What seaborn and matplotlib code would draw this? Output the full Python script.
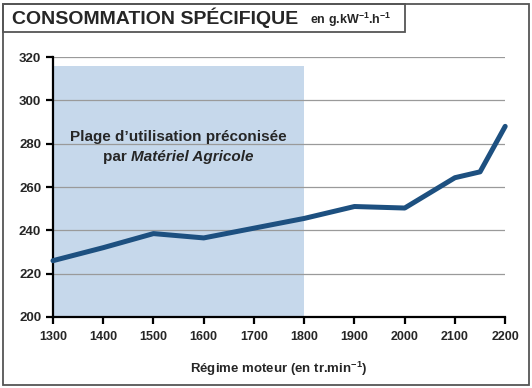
import matplotlib
matplotlib.use("Agg")
import matplotlib.pyplot as plt
import seaborn as sns
import pandas as pd
from matplotlib.patches import Rectangle

# data
regime = [1300, 1400, 1500, 1600, 1700, 1800, 1900, 2000, 2100, 2150, 2200]
conso = [226, 232, 238.5, 236.5, 241, 245.5, 251, 250.3, 264.3, 267, 288]
x_ticks = [1300, 1400, 1500, 1600, 1700, 1800, 1900, 2000, 2100, 2200]
y_ticks = [200, 220, 240, 260, 280, 300, 320]
plage = (1300, 1800, 316)  # start, end, top of recommended range

df = pd.DataFrame({"regime": regime, "conso": conso})

sns.set_style("ticks")
plt.rcParams["font.family"] = ["Liberation Sans", "DejaVu Sans"]
plt.rcParams["font.weight"] = "bold"
plt.rcParams["mathtext.fontset"] = "custom"
plt.rcParams["mathtext.bf"] = "Liberation Sans:bold"
plt.rcParams["mathtext.rm"] = "Liberation Sans:bold"
plt.rcParams["mathtext.default"] = "bf"

fig = plt.figure(figsize=(5.32, 3.88), dpi=100)
ax = fig.add_axes([0.0996, 0.183, 0.85, 0.67])

# shaded range
ax.fill_between([plage[0], plage[1]], 200, plage[2], color="#c6d8eb", lw=0, zorder=1)
# grid lines
ax.hlines(y_ticks[1:], x_ticks[0], x_ticks[-1], color="#9a9a9a", lw=0.9, zorder=1.5)

sns.lineplot(data=df, x="regime", y="conso", ax=ax, color="#1d5080", lw=3.6,
             zorder=3, clip_on=False)

ax.set_xlim(1300, 2200)
ax.set_ylim(200, 320)
ax.set_xticks(x_ticks)
ax.set_yticks(y_ticks)
ax.tick_params(axis="both", width=1.6, length=5, color="black")
ax.tick_params(axis="x", pad=5, labelsize=9)
ax.tick_params(axis="y", labelsize=9.5)
for lab in ax.get_xticklabels() + ax.get_yticklabels():
    lab.set_fontweight("bold")
sns.despine(ax=ax)
for s in ["left", "bottom"]:
    ax.spines[s].set_linewidth(1.6)
    ax.spines[s].set_color("black")

ax.set_xlabel("Régime moteur (en tr.min$^{-1}$)", fontsize=9.5, fontweight="bold",
              labelpad=12)
ax.set_ylabel("")

ax.text(1549, 283, "Plage d’utilisation préconisée", ha="center", va="center",
        fontsize=11, fontweight="bold")

# second line: "par" upright + "Matériel Agricole" italic, centred together
fig.canvas.draw()
r = fig.canvas.get_renderer()
t_par = ax.text(0, 0, "par ", fontsize=11, fontweight="bold", va="center")
t_it = ax.text(0, 0, "Matériel Agricole", fontsize=11, fontweight="bold",
               style="italic", va="center")
w_par = t_par.get_window_extent(r).width
w_it = t_it.get_window_extent(r).width
cx, cy = ax.transData.transform((1549, 273.8))
x0 = cx - (w_par + w_it) / 2
inv = ax.transData.inverted()
t_par.set_position(inv.transform((x0, cy)))
t_it.set_position(inv.transform((x0 + w_par, cy)))

# frames
fig.patches.append(Rectangle((0.006, 0.008), 0.988, 0.982, transform=fig.transFigure,
                             fill=False, ec="#555555", lw=1.3))
fig.patches.append(Rectangle((0.006, 0.918), 0.755, 0.072, transform=fig.transFigure,
                             fill=False, ec="#555555", lw=1.3))
fig.text(0.022, 0.953, "CONSOMMATION SPÉCIFIQUE", fontsize=14, fontweight="bold",
         va="center", ha="left")
fig.text(0.582, 0.948, "en g.kW$^{-1}$.h$^{-1}$", fontsize=9, fontweight="bold",
         va="center", ha="left")

fig.savefig("out.png", dpi=100)
